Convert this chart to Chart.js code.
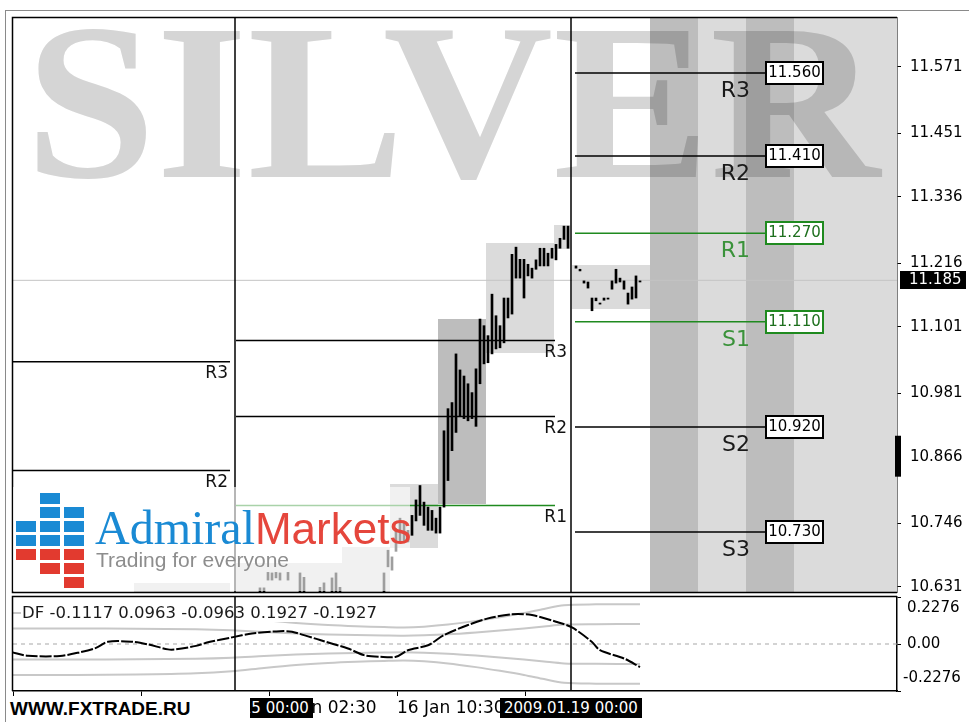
<!DOCTYPE html>
<html>
<head>
<meta charset="utf-8">
<title>SILVER H1 – pivot levels</title>
<script src="https://cdn.jsdelivr.net/npm/chart.js@4.4.1/dist/chart.umd.min.js"></script>
<style>
html, body { margin:0; padding:0; background:#fff; }
#stage { position:relative; width:969px; height:722px; overflow:hidden; background:#fff; }
#stage canvas { position:absolute; left:0; }
#mainChart { top:0; }
#dfChart { top:580px; }
#frameL { position:absolute; left:5px; top:10px; width:1px; height:712px; background:#8a8a8a; }
#frameT { position:absolute; left:5px; top:10px; width:964px; height:1px; background:#8a8a8a; }
#logo { position:absolute; left:13px; top:487px; width:397px; height:104px; background:rgba(255,255,255,0.62); z-index:5; }
#logo .sq { position:absolute; width:20px; height:11px; }
#logo .blue { background:#1a8ad4; }
#logo .red { background:#e23a2f; }
#logoName { position:absolute; left:82px; top:17px; white-space:nowrap; line-height:48px; font-family:"Liberation Serif"; font-size:48px; }
#logoName .adm { font-family:"Liberation Serif"; font-size:48px; color:#1a8ad4; }
#logoName .mkt { font-family:"Liberation Sans"; font-size:44px; color:#e5463c; }
#logoTag { position:absolute; left:83px; top:62px; font-family:"Liberation Sans"; font-size:21px; color:#8d8d8d; white-space:nowrap; line-height:22px; }
.sepBox { position:absolute; top:698px; height:20px; line-height:20px; background:#000; color:#fff; font-family:"DejaVu Sans"; font-size:15px; padding:0 4px; white-space:nowrap; z-index:6; }
#site { position:absolute; left:8px; top:697px; width:242px; height:24px; line-height:24px; background:#fff; font-family:"Liberation Sans"; font-weight:bold; font-size:19px; color:#000; padding-left:2px; box-sizing:border-box; z-index:7; }
</style>
</head>
<body>
<div id="stage">
  <canvas id="mainChart" width="969" height="612"></canvas>
  <canvas id="dfChart" width="969" height="142"></canvas>
  <div id="frameL"></div>
  <div id="frameT"></div>
  <div id="logo">
    <div id="logoName"><span class="adm">Admiral</span><span class="mkt">Markets</span></div>
    <div id="logoTag">Trading for everyone</div>
  </div>
  <div id="site">WWW.FXTRADE.RU</div>
</div>
<script>
// ---------------- data ----------------
const WATERMARK = 'SILVER';
const X_MIN = -0.75, X_MAX = 220.25;
const PRICE_MIN = 10.6215, PRICE_MAX = 11.6593;
const priceTicks = [10.631, 10.746, 10.866, 10.981, 11.101, 11.216, 11.336, 11.451, 11.571];
const currentPrice = 11.185;
const axisMark = [10.830, 10.904];

// H1 bars (index, high, low); lows below the axis run off the bottom
const barIndex = [61,62,63,64,65,66,68,71,72,76,77,79,80,81,
  92,93,94,95,96,97,98,99,100,101,102,103,104,105,106,107,108,109,110,111,112,113,114,115,116,117,118,119,120,121,122,123,124,125,126,127,128,129,130,131,132,133,134,135,136,137,138,
  140,141,142,143,144,145,146,147,148,149,150,151,152,153,154,155,156];
const barHigh = [10.629,10.629,10.657,10.656,10.657,10.656,10.657,10.656,10.648,10.630,10.638,10.647,10.656,10.630,
  10.656,10.697,10.685,10.735,10.755,10.746,10.733,10.760,10.788,10.814,10.784,10.775,10.769,10.755,10.775,10.913,10.953,10.964,11.052,11.023,11.012,10.998,10.982,11.025,11.115,11.103,11.085,11.160,11.121,11.103,11.153,11.153,11.232,11.245,11.223,11.223,11.214,11.207,11.222,11.243,11.243,11.234,11.243,11.250,11.261,11.283,11.283,
  11.211,11.205,11.184,11.182,11.153,11.153,11.144,11.153,11.153,11.184,11.205,11.189,11.184,11.162,11.173,11.193,11.184];
const barLow = [10.600,10.600,10.643,10.643,10.647,10.643,10.643,10.600,10.600,10.600,10.600,10.600,10.600,10.600,
  10.600,10.667,10.661,10.695,10.710,10.712,10.712,10.724,10.750,10.760,10.742,10.733,10.733,10.728,10.728,10.775,10.823,10.877,10.910,10.940,10.935,10.931,10.935,10.921,10.998,11.034,11.036,11.052,11.061,11.063,11.072,11.117,11.124,11.189,11.189,11.153,11.193,11.189,11.205,11.211,11.211,11.211,11.225,11.222,11.243,11.259,11.243,
  11.207,11.202,11.180,11.171,11.130,11.148,11.142,11.149,11.151,11.169,11.180,11.182,11.169,11.142,11.151,11.153,11.182];

// session range boxes (bar index from/to, price low/high, shade)
const boxFrom  = [29.5, 55, 81.5, 93.5, 105.5, 117.5, 134.5, 139, 158.5, 170.5, 182.5, 194.5];
const boxTo    = [53.5, 81.5, 93.5, 105.5, 117.5, 134.5, 138.5, 158.5, 170.5, 182.5, 194.5, 220.25];
const boxLow   = [10.600, 10.600, 10.600, 10.701, 10.780, 11.053, 11.241, 11.133, 10.6215, 10.6215, 10.6215, 10.6215];
const boxHigh  = [10.638, 10.674, 10.703, 10.816, 11.115, 11.252, 11.285, 11.213, 11.6593, 11.6593, 11.6593, 11.6593];
const boxShade = ['light','light','light','light','dark','light','light','light','dark','light','dark','light'];

// daily pivot levels
const levelNames = ['R3','R2','R1','S1','S2','S3'];
const pivotFrom = [-0.75, 55, 139.75];
const pivotTo = [53.5, 134.75, 187.25];
const pivotLabelAt = [53, 137.75, 183.5];
const pivotA = [11.038, 10.841, null, null, null, null];
const pivotB = [11.076, 10.939, 10.778, null, null, null];
const pivotC = [11.560, 11.410, 11.270, 11.110, 10.920, 10.730];

// time axis
const separatorIdx = [54.75, 138.75];
const separatorLabels = ['2009.01.15 00:00', '2009.01.19 00:00'];
const separatorLabelShift = [7, 0];
const timeTickIdx = [-0.75, 31.25, 63.25, 95.25, 127.25];
const timeTickLabels = ['12 Jan 10:30', '13 Jan 18:30', '15 Jan 02:30', '16 Jan 10:30', '18 Jan 18:30'];

// DF indicator
const dfIdx = [-1, 3, 11, 16, 20, 23, 29, 33, 38, 40, 45, 48, 54, 59, 66, 69, 76, 83, 87, 91, 95, 98, 103, 107, 113, 118, 124, 129, 135, 139, 144, 146, 152, 156];
const dfValue = [-0.040, -0.057, -0.058, -0.040, -0.019, 0.011, 0.011, -0.002, -0.026, -0.026, -0.009, 0.008, 0.032, 0.051, 0.062, 0.059, 0.019, -0.022, -0.054, -0.062, -0.062, -0.030, -0.006, 0.043, 0.092, 0.124, 0.144, 0.140, 0.108, 0.080, 0.010, -0.030, -0.070, -0.1117];
const bandIdx = [-1, 15, 30, 45, 54, 62, 70, 78, 85, 92, 97, 102, 108, 115, 121, 127, 132, 137, 145, 156];
const bandUpperInner = [0.075, 0.075, 0.074, 0.071, 0.066, 0.058, 0.051, 0.046, 0.043, 0.041, 0.040, 0.042, 0.047, 0.056, 0.065, 0.075, 0.085, 0.094, 0.096, 0.0963];
const bandLowerInner = [-0.075, -0.075, -0.074, -0.071, -0.066, -0.058, -0.051, -0.046, -0.043, -0.041, -0.040, -0.042, -0.047, -0.056, -0.065, -0.075, -0.085, -0.094, -0.096, -0.0963];
const bandUpperOuter = [0.150, 0.150, 0.148, 0.142, 0.132, 0.116, 0.102, 0.092, 0.086, 0.082, 0.080, 0.084, 0.094, 0.112, 0.130, 0.150, 0.170, 0.188, 0.192, 0.1927];
const bandLowerOuter = [-0.150, -0.150, -0.148, -0.142, -0.132, -0.116, -0.102, -0.092, -0.086, -0.082, -0.080, -0.084, -0.094, -0.112, -0.130, -0.150, -0.170, -0.188, -0.192, -0.1927];
const dfTicks = [-0.2276, 0, 0.2276];

// ---------------- helpers ----------------
const GREEN = '#1f8a1f';
const GREEN_TXT = '#3a923a';
const FONT = '"DejaVu Sans"';
const isGreen = j => levelNames[j] === 'R1' || levelNames[j] === 'S1';
const xy = (xs, ys) => xs.map((v, k) => ({x: v, y: ys[k]}));
const seg = (a, b, v) => [{x: a, y: v}, {x: b, y: v}];

// ---------------- main chart ----------------
const mainDatasets = [{
  type: 'bar', label: 'SILVER',
  data: barIndex.map((v, k) => ({x: v, y: [barLow[k], barHigh[k]]})),
  backgroundColor: '#000', borderWidth: 0, barThickness: 2, minBarLength: 1
}];
[pivotA, pivotB, pivotC].forEach((lv, d) => lv.forEach((v, j) => {
  if (v == null) return;
  mainDatasets.push({type: 'line', label: levelNames[j], data: seg(pivotFrom[d], pivotTo[d], v),
    borderColor: isGreen(j) ? GREEN : '#000', borderWidth: 1.5, pointRadius: 0});
}));
mainDatasets.push({type: 'line', label: 'price', data: seg(X_MIN, X_MAX, currentPrice),
  borderColor: '#c4c4c4', borderWidth: 1, pointRadius: 0});

const mainDeco = {
  id: 'mainDeco',
  beforeDatasetsDraw(chart) {
    const {ctx, chartArea: a, scales: {x, y}} = chart;
    ctx.save();
    ctx.beginPath(); ctx.rect(a.left, a.top, a.right - a.left, a.bottom - a.top); ctx.clip();
    for (let k = 0; k < boxFrom.length; k++) {
      const x0 = Math.round(x.getPixelForValue(boxFrom[k])), x1 = Math.round(x.getPixelForValue(boxTo[k]));
      const y0 = Math.round(y.getPixelForValue(boxHigh[k])), y1 = Math.round(y.getPixelForValue(boxLow[k]));
      ctx.fillStyle = boxShade[k] === 'dark' ? '#bdbdbd' : '#dbdbdb';
      ctx.fillRect(x0, y0, x1 - x0, y1 - y0);
    }
    ctx.globalCompositeOperation = 'multiply';
    ctx.fillStyle = '#d5d5d5';
    ctx.font = 'bold 222px "Liberation Serif"';
    ctx.textBaseline = 'alphabetic';
    const w = ctx.measureText(WATERMARK).width;
    ctx.translate(25, 177);
    ctx.scale(855 / w, 1);
    ctx.fillText(WATERMARK, 0, 0);
    ctx.restore();
  },
  afterDatasetsDraw(chart) {
    const {ctx, chartArea: a, scales: {x, y}} = chart;
    ctx.save();
    // period separators
    ctx.strokeStyle = '#000'; ctx.lineWidth = 1.5;
    separatorIdx.forEach(s => {
      const px = Math.round(x.getPixelForValue(s));
      ctx.beginPath(); ctx.moveTo(px, a.top); ctx.lineTo(px, a.bottom); ctx.stroke();
    });
    // pivot labels
    ctx.textBaseline = 'middle';
    [pivotA, pivotB, pivotC].forEach((lv, d) => lv.forEach((v, j) => {
      if (v == null) return;
      const py = y.getPixelForValue(v);
      ctx.textAlign = 'right';
      if (d < 2) {
        ctx.font = '17px ' + FONT; ctx.fillStyle = '#111';
        ctx.fillText(levelNames[j], x.getPixelForValue(pivotLabelAt[d]), py + 12);
      } else {
        ctx.font = '22px ' + FONT; ctx.fillStyle = isGreen(j) ? GREEN_TXT : '#1a1a1a';
        ctx.fillText(levelNames[j], x.getPixelForValue(pivotLabelAt[d]), py + 18);
        // value box
        const bx = Math.round(x.getPixelForValue(pivotTo[d]));
        const by = Math.round(py) - 12;
        ctx.fillStyle = '#fff'; ctx.fillRect(bx, by, 59, 24);
        ctx.strokeStyle = isGreen(j) ? GREEN : '#000'; ctx.lineWidth = 2;
        ctx.strokeRect(bx + 1, by + 1, 57, 22);
        ctx.font = '15px ' + FONT; ctx.textAlign = 'center';
        ctx.fillStyle = isGreen(j) ? '#1d6f1d' : '#000';
        ctx.fillText(v.toFixed(3), bx + 29.5, by + 12.5);
      }
    }));
    // frame
    ctx.strokeStyle = '#000'; ctx.lineWidth = 1.5;
    ctx.beginPath();
    ctx.moveTo(a.right, a.top - 0.5); ctx.lineTo(a.left - 0.5, a.top - 0.5);
    ctx.lineTo(a.left - 0.5, a.bottom + 0.5); ctx.lineTo(a.right, a.bottom + 0.5);
    ctx.stroke();
    // axis marker
    const m0 = y.getPixelForValue(axisMark[1]), m1 = y.getPixelForValue(axisMark[0]);
    ctx.fillStyle = '#000'; ctx.fillRect(a.right - 2, m0, 6, m1 - m0);
    // current price label
    const cy = Math.round(y.getPixelForValue(currentPrice));
    ctx.fillStyle = '#000'; ctx.fillRect(a.right + 3, cy - 9, 66, 18);
    ctx.fillStyle = '#fff'; ctx.font = '15px ' + FONT; ctx.textAlign = 'left'; ctx.textBaseline = 'middle';
    ctx.fillText(currentPrice.toFixed(3), a.right + 12, cy + 0.5);
    ctx.restore();
  }
};

const mainChart = new Chart(document.getElementById('mainChart'), {
  type: 'bar',
  data: {datasets: mainDatasets},
  options: {
    responsive: false, animation: false, events: [],
    layout: {padding: {left: 13, top: 16, right: 0, bottom: 20}},
    plugins: {legend: {display: false}, tooltip: {enabled: false}},
    scales: {
      x: {type: 'linear', min: X_MIN, max: X_MAX, display: false, offset: false},
      y: {
        position: 'right', min: PRICE_MIN, max: PRICE_MAX,
        afterBuildTicks: s => { s.ticks = priceTicks.map(v => ({value: v})); },
        afterFit: s => { s.width = 72; },
        ticks: {callback: v => Number(v).toFixed(3), font: {family: 'DejaVu Sans', size: 15}, color: '#000', padding: 9, autoSkip: false},
        grid: {drawOnChartArea: false, drawTicks: true, tickLength: 4, color: '#000'},
        border: {display: true, color: '#000', width: 1.5}
      }
    }
  },
  plugins: [mainDeco]
});

// ---------------- DF chart ----------------
const dfLegend = 'DF ' + [dfValue[dfValue.length - 1], bandUpperInner[bandUpperInner.length - 1], bandLowerInner[bandLowerInner.length - 1],
  bandUpperOuter[bandUpperOuter.length - 1], bandLowerOuter[bandLowerOuter.length - 1]].map(v => v.toFixed(4)).join(' ');

const dfDeco = {
  id: 'dfDeco',
  afterDatasetsDraw(chart) {
    const {ctx, chartArea: a, scales: {x, y}} = chart;
    ctx.save();
    // indicator name + last values, on a white label background
    ctx.font = '16.5px ' + FONT; ctx.textAlign = 'left'; ctx.textBaseline = 'middle';
    const tw = ctx.measureText(dfLegend).width;
    ctx.fillStyle = '#fff'; ctx.fillRect(a.left + 8, a.top + 9, tw + 2, 16);
    ctx.fillStyle = '#1a1a1a';
    ctx.fillText(dfLegend, a.left + 9, a.top + 17);
    ctx.strokeStyle = '#000'; ctx.lineWidth = 1.5;
    separatorIdx.forEach(s => {
      const px = Math.round(x.getPixelForValue(s));
      ctx.beginPath(); ctx.moveTo(px, a.top); ctx.lineTo(px, a.bottom); ctx.stroke();
    });
    ctx.beginPath();
    ctx.moveTo(a.right, a.top - 0.5); ctx.lineTo(a.left - 0.5, a.top - 0.5); ctx.lineTo(a.left - 0.5, a.bottom);
    ctx.stroke();
    // indicator scale labels (MT4 style: top label under the top edge, bottom label above the bottom edge)
    ctx.font = '15px ' + FONT; ctx.fillStyle = '#000'; ctx.textAlign = 'left'; ctx.textBaseline = 'middle';
    dfTicks.forEach(v => {
      const t = v === 0 ? '0.00' : v.toFixed(4);
      let py = y.getPixelForValue(v);
      if (v > 0) py += 11.5; else if (v < 0) py -= 12.5;
      ctx.fillText(t, a.right + (v < 0 ? 6 : 10), py);
    });
    ctx.restore();
  }
};

const dfChart = new Chart(document.getElementById('dfChart'), {
  type: 'line',
  data: {datasets: [
    {label: 'DF', data: xy(dfIdx, dfValue), borderColor: '#000', borderWidth: 2, borderDash: [12, 2], pointRadius: 0, tension: 0.3},
    {label: 'zero', data: seg(X_MIN, X_MAX, 0), borderColor: '#a8a8a8', borderWidth: 1, borderDash: [4, 4], pointRadius: 0},
    {label: 'up1', data: xy(bandIdx, bandUpperInner), borderColor: '#c8c8c8', borderWidth: 2, pointRadius: 0, tension: 0.3},
    {label: 'dn1', data: xy(bandIdx, bandLowerInner), borderColor: '#c8c8c8', borderWidth: 2, pointRadius: 0, tension: 0.3},
    {label: 'up2', data: xy(bandIdx, bandUpperOuter), borderColor: '#c8c8c8', borderWidth: 2, pointRadius: 0, tension: 0.3},
    {label: 'dn2', data: xy(bandIdx, bandLowerOuter), borderColor: '#c8c8c8', borderWidth: 2, pointRadius: 0, tension: 0.3}
  ]},
  options: {
    responsive: false, animation: false, events: [],
    layout: {padding: {left: 13, top: 17, right: 0, bottom: 0}},
    plugins: {legend: {display: false}, tooltip: {enabled: false}},
    scales: {
      x: {
        type: 'linear', min: X_MIN, max: X_MAX, offset: false, position: 'bottom',
        afterBuildTicks: s => { s.ticks = timeTickIdx.map(v => ({value: v})); },
        afterFit: s => { s.height = 31; },
        ticks: {autoSkip: false, maxRotation: 0, minRotation: 0, align: 'start',
          callback: (v, i) => timeTickLabels[i], font: {family: 'DejaVu Sans', size: 17}, color: '#000', padding: 2},
        grid: {drawOnChartArea: false, drawTicks: true, tickLength: 5, color: '#000'},
        border: {display: true, color: '#000', width: 1.5}
      },
      y: {
        position: 'right', min: -0.2276, max: 0.2276,
        afterBuildTicks: s => { s.ticks = dfTicks.map(v => ({value: v})); },
        afterFit: s => { s.width = 72; },
        ticks: {display: false},
        grid: {drawOnChartArea: false, drawTicks: true, tickLength: 4, color: '#000'},
        border: {display: true, color: '#000', width: 1.5}
      }
    }
  },
  plugins: [dfDeco]
});

// ---------------- HTML overlays ----------------
const stage = document.getElementById('stage');
separatorLabels.forEach((t, k) => {
  const d = document.createElement('div');
  d.className = 'sepBox'; d.textContent = t;
  stage.appendChild(d);
  const px = dfChart.scales.x.getPixelForValue(separatorIdx[k]);
  d.style.left = Math.round(px - d.offsetWidth / 2 + separatorLabelShift[k]) + 'px';
});
// logo squares
const logo = document.getElementById('logo');
const logoCols = [['', '', 'b', 'b', 'r', '', ''], ['b', 'b', 'b', 'b', 'r', 'r', ''], ['', 'b', 'b', 'b', 'r', 'r', 'r']];
logoCols.forEach((col, c) => col.forEach((t, r) => {
  if (!t) return;
  const s = document.createElement('div');
  s.className = 'sq ' + (t === 'b' ? 'blue' : 'red');
  s.style.left = (3 + 24 * c) + 'px'; s.style.top = (6 + 14 * r) + 'px';
  logo.appendChild(s);
}));
</script>
</body>
</html>
